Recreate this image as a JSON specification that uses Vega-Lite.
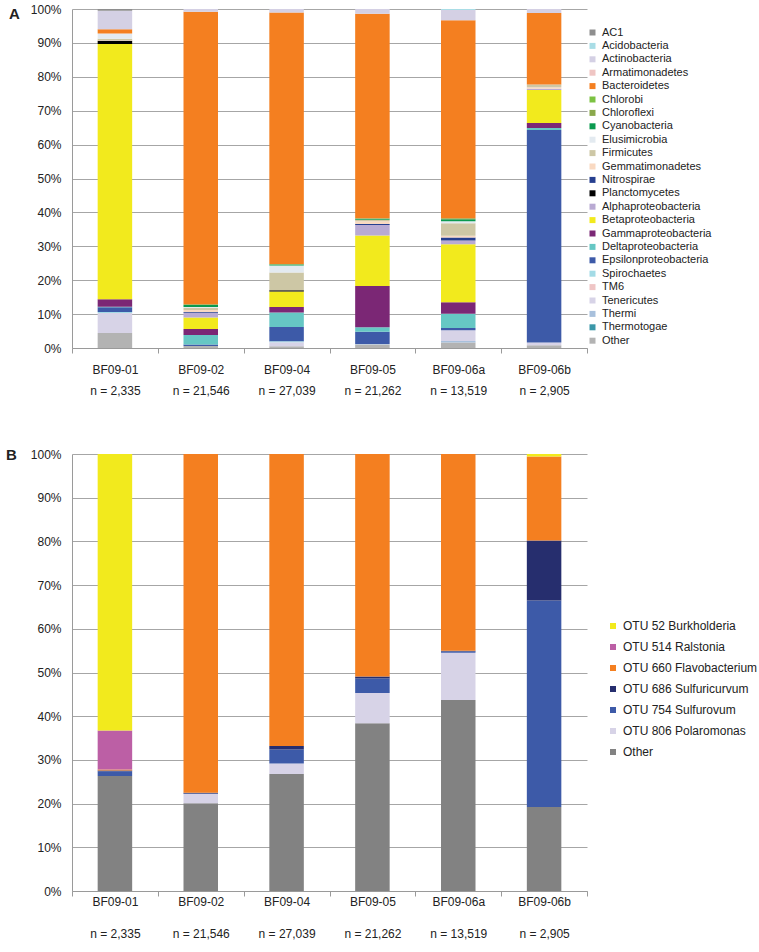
{
  "$schema": "https://vega.github.io/schema/vega-lite/v6.json",
  "padding": {"left": 5, "top": 3, "right": 2, "bottom": 5},
  "config": {
    "font": "Liberation Sans",
    "view": {"stroke": null},
    "axis": {"labelFont": "Liberation Sans", "labelColor": "#222222", "labelFontSize": 12, "domainColor": "#9a9a9a", "tickColor": "#9a9a9a", "gridColor": "#a6a6a6"},
    "legend": {"labelFont": "Liberation Sans", "labelColor": "#222222"}
  },
  "datasets": {
    "a": [
      {"sample": "BF09-01", "taxon": "Other", "pct": 4.4},
      {"sample": "BF09-01", "taxon": "Tenericutes", "pct": 5.9},
      {"sample": "BF09-01", "taxon": "Spirochaetes", "pct": 0.3},
      {"sample": "BF09-01", "taxon": "Epsilonproteobacteria", "pct": 1.4},
      {"sample": "BF09-01", "taxon": "Deltaproteobacteria", "pct": 0.2},
      {"sample": "BF09-01", "taxon": "Gammaproteobacteria", "pct": 2.2},
      {"sample": "BF09-01", "taxon": "Betaproteobacteria", "pct": 75.3},
      {"sample": "BF09-01", "taxon": "Planctomycetes", "pct": 0.9},
      {"sample": "BF09-01", "taxon": "Gemmatimonadetes", "pct": 0.2},
      {"sample": "BF09-01", "taxon": "Firmicutes", "pct": 0.4},
      {"sample": "BF09-01", "taxon": "Elusimicrobia", "pct": 1.6},
      {"sample": "BF09-01", "taxon": "Bacteroidetes", "pct": 1.2},
      {"sample": "BF09-01", "taxon": "Actinobacteria", "pct": 5.5},
      {"sample": "BF09-01", "taxon": "AC1", "pct": 0.5},

      {"sample": "BF09-02", "taxon": "Other", "pct": 0.6},
      {"sample": "BF09-02", "taxon": "Epsilonproteobacteria", "pct": 0.4},
      {"sample": "BF09-02", "taxon": "Deltaproteobacteria", "pct": 2.8},
      {"sample": "BF09-02", "taxon": "Gammaproteobacteria", "pct": 1.8},
      {"sample": "BF09-02", "taxon": "Betaproteobacteria", "pct": 3.4},
      {"sample": "BF09-02", "taxon": "Alphaproteobacteria", "pct": 1.4},
      {"sample": "BF09-02", "taxon": "Nitrospirae", "pct": 0.2},
      {"sample": "BF09-02", "taxon": "Gemmatimonadetes", "pct": 0.6},
      {"sample": "BF09-02", "taxon": "Firmicutes", "pct": 0.7},
      {"sample": "BF09-02", "taxon": "Elusimicrobia", "pct": 0.2},
      {"sample": "BF09-02", "taxon": "Cyanobacteria", "pct": 0.6},
      {"sample": "BF09-02", "taxon": "Chloroflexi", "pct": 0.2},
      {"sample": "BF09-02", "taxon": "Bacteroidetes", "pct": 86.3},
      {"sample": "BF09-02", "taxon": "Actinobacteria", "pct": 0.8},

      {"sample": "BF09-04", "taxon": "Other", "pct": 0.5},
      {"sample": "BF09-04", "taxon": "Tenericutes", "pct": 1.2},
      {"sample": "BF09-04", "taxon": "Epsilonproteobacteria", "pct": 4.3},
      {"sample": "BF09-04", "taxon": "Spirochaetes", "pct": 0.2},
      {"sample": "BF09-04", "taxon": "Deltaproteobacteria", "pct": 4.3},
      {"sample": "BF09-04", "taxon": "Gammaproteobacteria", "pct": 1.6},
      {"sample": "BF09-04", "taxon": "Betaproteobacteria", "pct": 4.6},
      {"sample": "BF09-04", "taxon": "Planctomycetes", "pct": 0.3},
      {"sample": "BF09-04", "taxon": "Firmicutes", "pct": 5.3},
      {"sample": "BF09-04", "taxon": "Elusimicrobia", "pct": 2.0},
      {"sample": "BF09-04", "taxon": "Cyanobacteria", "pct": 0.3},
      {"sample": "BF09-04", "taxon": "Chloroflexi", "pct": 0.2},
      {"sample": "BF09-04", "taxon": "Bacteroidetes", "pct": 74.2},
      {"sample": "BF09-04", "taxon": "Actinobacteria", "pct": 1.0},

      {"sample": "BF09-05", "taxon": "Other", "pct": 1.0},
      {"sample": "BF09-05", "taxon": "Thermi", "pct": 0.2},
      {"sample": "BF09-05", "taxon": "Epsilonproteobacteria", "pct": 3.6},
      {"sample": "BF09-05", "taxon": "Deltaproteobacteria", "pct": 1.3},
      {"sample": "BF09-05", "taxon": "Gammaproteobacteria", "pct": 12.2},
      {"sample": "BF09-05", "taxon": "Betaproteobacteria", "pct": 14.9},
      {"sample": "BF09-05", "taxon": "Alphaproteobacteria", "pct": 3.1},
      {"sample": "BF09-05", "taxon": "Nitrospirae", "pct": 0.3},
      {"sample": "BF09-05", "taxon": "Gemmatimonadetes", "pct": 0.8},
      {"sample": "BF09-05", "taxon": "Firmicutes", "pct": 0.4},
      {"sample": "BF09-05", "taxon": "Cyanobacteria", "pct": 0.3},
      {"sample": "BF09-05", "taxon": "Chloroflexi", "pct": 0.2},
      {"sample": "BF09-05", "taxon": "Bacteroidetes", "pct": 60.3},
      {"sample": "BF09-05", "taxon": "Actinobacteria", "pct": 1.4},

      {"sample": "BF09-06a", "taxon": "Other", "pct": 1.6},
      {"sample": "BF09-06a", "taxon": "Thermi", "pct": 0.5},
      {"sample": "BF09-06a", "taxon": "Tenericutes", "pct": 3.1},
      {"sample": "BF09-06a", "taxon": "Epsilonproteobacteria", "pct": 0.7},
      {"sample": "BF09-06a", "taxon": "Deltaproteobacteria", "pct": 4.2},
      {"sample": "BF09-06a", "taxon": "Gammaproteobacteria", "pct": 3.4},
      {"sample": "BF09-06a", "taxon": "Betaproteobacteria", "pct": 17.1},
      {"sample": "BF09-06a", "taxon": "Alphaproteobacteria", "pct": 1.1},
      {"sample": "BF09-06a", "taxon": "Nitrospirae", "pct": 0.9},
      {"sample": "BF09-06a", "taxon": "Gemmatimonadetes", "pct": 0.5},
      {"sample": "BF09-06a", "taxon": "Firmicutes", "pct": 3.7},
      {"sample": "BF09-06a", "taxon": "Elusimicrobia", "pct": 0.6},
      {"sample": "BF09-06a", "taxon": "Cyanobacteria", "pct": 0.6},
      {"sample": "BF09-06a", "taxon": "Chloroflexi", "pct": 0.3},
      {"sample": "BF09-06a", "taxon": "Bacteroidetes", "pct": 58.4},
      {"sample": "BF09-06a", "taxon": "Actinobacteria", "pct": 3.0},
      {"sample": "BF09-06a", "taxon": "Acidobacteria", "pct": 0.3},

      {"sample": "BF09-06b", "taxon": "Other", "pct": 0.8},
      {"sample": "BF09-06b", "taxon": "Tenericutes", "pct": 0.8},
      {"sample": "BF09-06b", "taxon": "Epsilonproteobacteria", "pct": 62.7},
      {"sample": "BF09-06b", "taxon": "Deltaproteobacteria", "pct": 0.6},
      {"sample": "BF09-06b", "taxon": "Gammaproteobacteria", "pct": 1.5},
      {"sample": "BF09-06b", "taxon": "Betaproteobacteria", "pct": 9.7},
      {"sample": "BF09-06b", "taxon": "Alphaproteobacteria", "pct": 0.4},
      {"sample": "BF09-06b", "taxon": "Gemmatimonadetes", "pct": 0.4},
      {"sample": "BF09-06b", "taxon": "Firmicutes", "pct": 0.8},
      {"sample": "BF09-06b", "taxon": "Bacteroidetes", "pct": 21.1},
      {"sample": "BF09-06b", "taxon": "Actinobacteria", "pct": 1.2}
    ],
    "b": [
      {"sample": "BF09-01", "otu": "Other", "pct": 26.3},
      {"sample": "BF09-01", "otu": "OTU 754 Sulfurovum", "pct": 1.1},
      {"sample": "BF09-01", "otu": "OTU 686 Sulfuricurvum", "pct": 0.2},
      {"sample": "BF09-01", "otu": "OTU 660 Flavobacterium", "pct": 0.2},
      {"sample": "BF09-01", "otu": "OTU 514 Ralstonia", "pct": 8.9},
      {"sample": "BF09-01", "otu": "OTU 52 Burkholderia", "pct": 63.3},
      {"sample": "BF09-02", "otu": "Other", "pct": 20.1},
      {"sample": "BF09-02", "otu": "OTU 806 Polaromonas", "pct": 2.1},
      {"sample": "BF09-02", "otu": "OTU 754 Sulfurovum", "pct": 0.1},
      {"sample": "BF09-02", "otu": "OTU 686 Sulfuricurvum", "pct": 0.2},
      {"sample": "BF09-02", "otu": "OTU 660 Flavobacterium", "pct": 77.5},
      {"sample": "BF09-04", "otu": "Other", "pct": 26.8},
      {"sample": "BF09-04", "otu": "OTU 806 Polaromonas", "pct": 2.4},
      {"sample": "BF09-04", "otu": "OTU 754 Sulfurovum", "pct": 3.2},
      {"sample": "BF09-04", "otu": "OTU 686 Sulfuricurvum", "pct": 0.8},
      {"sample": "BF09-04", "otu": "OTU 660 Flavobacterium", "pct": 66.8},
      {"sample": "BF09-05", "otu": "Other", "pct": 38.4},
      {"sample": "BF09-05", "otu": "OTU 806 Polaromonas", "pct": 6.9},
      {"sample": "BF09-05", "otu": "OTU 754 Sulfurovum", "pct": 3.3},
      {"sample": "BF09-05", "otu": "OTU 686 Sulfuricurvum", "pct": 0.5},
      {"sample": "BF09-05", "otu": "OTU 660 Flavobacterium", "pct": 50.9},
      {"sample": "BF09-06a", "otu": "Other", "pct": 43.7},
      {"sample": "BF09-06a", "otu": "OTU 806 Polaromonas", "pct": 10.8},
      {"sample": "BF09-06a", "otu": "OTU 754 Sulfurovum", "pct": 0.3},
      {"sample": "BF09-06a", "otu": "OTU 686 Sulfuricurvum", "pct": 0.2},
      {"sample": "BF09-06a", "otu": "OTU 660 Flavobacterium", "pct": 45.0},
      {"sample": "BF09-06b", "otu": "Other", "pct": 19.2},
      {"sample": "BF09-06b", "otu": "OTU 754 Sulfurovum", "pct": 47.3},
      {"sample": "BF09-06b", "otu": "OTU 686 Sulfuricurvum", "pct": 13.7},
      {"sample": "BF09-06b", "otu": "OTU 660 Flavobacterium", "pct": 19.2},
      {"sample": "BF09-06b", "otu": "OTU 52 Burkholderia", "pct": 0.6}
    ]
  },
  "spacing": 51,
  "resolve": {"scale": {"color": "independent"}, "legend": {"color": "independent"}},
  "vconcat": [
    {
      "data": {"name": "a"},
      "transform": [
        {"calculate": "indexof(['AC1', 'Acidobacteria', 'Actinobacteria', 'Armatimonadetes', 'Bacteroidetes', 'Chlorobi', 'Chloroflexi', 'Cyanobacteria', 'Elusimicrobia', 'Firmicutes', 'Gemmatimonadetes', 'Nitrospirae', 'Planctomycetes', 'Alphaproteobacteria', 'Betaproteobacteria', 'Gammaproteobacteria', 'Deltaproteobacteria', 'Epsilonproteobacteria', 'Spirochaetes', 'TM6', 'Tenericutes', 'Thermi', 'Thermotogae', 'Other'], datum.taxon)", "as": "stackOrder"}
      ],
      "width": 515,
      "height": 339,
      "mark": {"type": "bar", "width": 34.5},
      "encoding": {
        "x": {
          "field": "sample", "type": "nominal", "sort": null,
          "scale": {"paddingInner": 0, "paddingOuter": 0},
          "axis": {"title": null, "labelAngle": 0, "tickBand": "extent", "tickSize": 5, "labelPadding": 11, "labelLineHeight": 21,
            "labelExpr": "[datum.value, {'BF09-01': 'n = 2,335', 'BF09-02': 'n = 21,546', 'BF09-04': 'n = 27,039', 'BF09-05': 'n = 21,262', 'BF09-06a': 'n = 13,519', 'BF09-06b': 'n = 2,905'}[datum.value]]"}
        },
        "y": {
          "field": "pct", "type": "quantitative", "stack": "normalize",
          "scale": {"domain": [0, 1], "nice": false},
          "axis": {"values": [0, 0.1, 0.2, 0.3, 0.4, 0.5, 0.6, 0.7, 0.8, 0.9, 1], "format": ".0%", "ticks": false, "labelPadding": 11, "grid": true,
            "title": "A", "titleAngle": 0, "titleX": -63.4, "titleY": 4, "titleAlign": "left", "titleBaseline": "middle", "titleFontSize": 15, "titleFontWeight": "bold", "titleColor": "#222222"}
        },
        "order": {"field": "stackOrder", "type": "quantitative", "sort": "descending"},
        "color": {
          "field": "taxon", "type": "nominal",
          "scale": {
            "domain": ["AC1", "Acidobacteria", "Actinobacteria", "Armatimonadetes", "Bacteroidetes", "Chlorobi", "Chloroflexi", "Cyanobacteria", "Elusimicrobia", "Firmicutes", "Gemmatimonadetes", "Nitrospirae", "Planctomycetes", "Alphaproteobacteria", "Betaproteobacteria", "Gammaproteobacteria", "Deltaproteobacteria", "Epsilonproteobacteria", "Spirochaetes", "TM6", "Tenericutes", "Thermi", "Thermotogae", "Other"],
            "range": ["#8e8e8e", "#a9dde6", "#d4d0e4", "#efc5c3", "#f47f20", "#7cc242", "#8aa84b", "#0a9a4f", "#e3eaf0", "#cdc7a5", "#f9d9c1", "#263f8f", "#000000", "#b9aad3", "#f2ea1d", "#7b2775", "#66c7c4", "#3d5aa8", "#a3dbe6", "#efc5c5", "#d7d3e7", "#a8c0dc", "#3a97a8", "#b3b3b3"]
          },
          "legend": {"title": null, "orient": "none", "legendX": 515, "legendY": 18, "symbolType": "square", "symbolSize": 36, "symbolStrokeWidth": 0, "labelFontSize": 11, "labelOffset": 4, "rowPadding": 1.4, "padding": 0}
        }
      }
    },
    {
      "data": {"name": "b"},
      "transform": [
        {"calculate": "indexof(['OTU 52 Burkholderia', 'OTU 514 Ralstonia', 'OTU 660 Flavobacterium', 'OTU 686 Sulfuricurvum', 'OTU 754 Sulfurovum', 'OTU 806 Polaromonas', 'Other'], datum.otu)", "as": "stackOrder"}
      ],
      "width": 515,
      "height": 437,
      "mark": {"type": "bar", "width": 34.5},
      "encoding": {
        "x": {
          "field": "sample", "type": "nominal", "sort": null,
          "scale": {"paddingInner": 0, "paddingOuter": 0},
          "axis": {"title": null, "labelAngle": 0, "tickBand": "extent", "tickSize": 5, "labelPadding": 0, "labelLineHeight": 32,
            "labelExpr": "[datum.value, {'BF09-01': 'n = 2,335', 'BF09-02': 'n = 21,546', 'BF09-04': 'n = 27,039', 'BF09-05': 'n = 21,262', 'BF09-06a': 'n = 13,519', 'BF09-06b': 'n = 2,905'}[datum.value]]"}
        },
        "y": {
          "field": "pct", "type": "quantitative", "stack": "normalize",
          "scale": {"domain": [0, 1], "nice": false},
          "axis": {"values": [0, 0.1, 0.2, 0.3, 0.4, 0.5, 0.6, 0.7, 0.8, 0.9, 1], "format": ".0%", "ticks": false, "labelPadding": 11, "grid": true,
            "title": "B", "titleAngle": 0, "titleX": -66.4, "titleY": 0, "titleAlign": "left", "titleBaseline": "middle", "titleFontSize": 15, "titleFontWeight": "bold", "titleColor": "#222222"}
        },
        "order": {"field": "stackOrder", "type": "quantitative", "sort": "descending"},
        "color": {
          "field": "otu", "type": "nominal",
          "scale": {
            "domain": ["OTU 52 Burkholderia", "OTU 514 Ralstonia", "OTU 660 Flavobacterium", "OTU 686 Sulfuricurvum", "OTU 754 Sulfurovum", "OTU 806 Polaromonas", "Other"],
            "range": ["#f2ea1d", "#bc5fa5", "#f47f20", "#262e6e", "#3d5aa8", "#d7d3e7", "#828282"]
          },
          "legend": {"title": null, "orient": "none", "legendX": 535, "legendY": 166, "symbolType": "square", "symbolSize": 36, "symbolStrokeWidth": 0, "labelFontSize": 12, "labelOffset": 4, "rowPadding": 9, "padding": 0}
        }
      }
    }
  ]
}
